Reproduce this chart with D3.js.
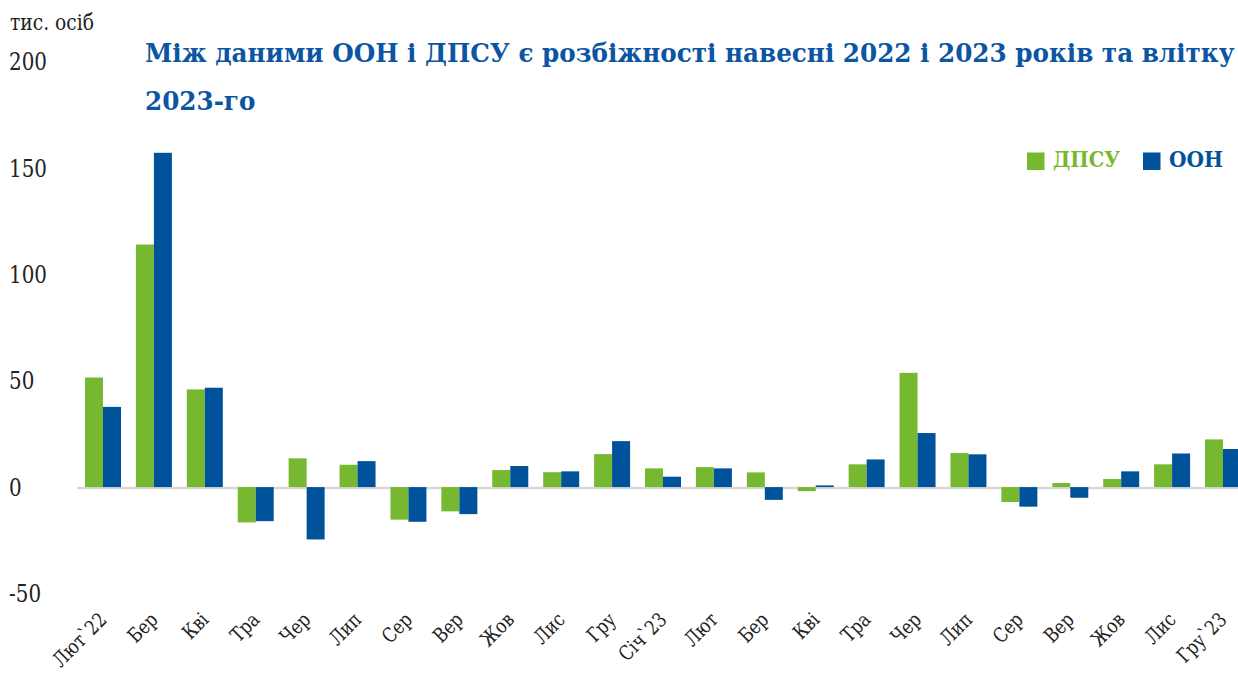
<!DOCTYPE html>
<html><head><meta charset="utf-8">
<script src="https://cdn.jsdelivr.net/npm/d3@7"></script>
<style>
body{margin:0;background:#fff;}
svg{display:block;font-family:"DejaVu Serif",serif;}
</style></head>
<body>
<svg id="c" width="1238" height="680"></svg>
<script>
const categories = ["Лют`22","Бер","Кві","Тра","Чер","Лип","Сер","Вер","Жов","Лис","Гру","Січ`23","Лют","Бер","Кві","Тра","Чер","Лип","Сер","Вер","Жов","Лис","Гру`23"];
const dpsu = [51.5,114.0,45.9,-16.6,13.5,10.5,-15.3,-11.4,8.0,7.0,15.5,8.8,9.4,6.9,-1.9,10.7,53.7,16.0,-7.0,1.9,3.8,10.7,22.4];
const oon  = [37.7,157.1,46.7,-16.0,-24.6,12.2,-16.3,-12.7,9.9,7.4,21.6,4.9,8.8,-6.0,0.8,13.0,25.4,15.4,-9.2,-5.0,7.4,15.8,17.9];
const yTicks = [200,150,100,50,0,-50];
const seriesNames = ["ДПСУ","ООН"];
const colors = ["#76b82f","#00529b"];
const titleLines = ["Між даними ООН і ДПСУ є розбіжності навесні 2022 і 2023 років та влітку","2023-го"];
const unitLabel = "тис. осіб";

const svg = d3.select("#c");
const y = d3.scaleLinear().domain([-50,200]).range([593.5,61.5]);
const x = d3.scaleBand().domain(d3.range(categories.length)).range([85,1241]).paddingInner(0.293).paddingOuter(0);
const xs = d3.scaleBand().domain([0,1]).range([0,x.bandwidth()]);

const SX = 0.83; // condensed look

// y tick labels
svg.append("g").selectAll("text").data(yTicks).join("text")
  .attr("transform",d=>`translate(9,${y(d)}) scale(${SX},1)`)
  .attr("dy","0.36em")
  .attr("font-size",24).attr("fill","#222").text(d=>d);
svg.append("text").attr("transform",`translate(10,30) scale(${SX},1)`)
  .attr("font-size",22.5).attr("fill","#222").text(unitLabel);

// zero line
svg.append("line").attr("x1",77).attr("x2",1238).attr("y1",y(0)+1).attr("y2",y(0)+1)
  .attr("stroke","#d9d9d9").attr("stroke-width",2.5);

// bars
const data = [dpsu,oon];
data.forEach((arr,si)=>{
  svg.append("g").selectAll("rect").data(arr).join("rect")
    .attr("x",(d,i)=>x(i)+xs(si))
    .attr("width",xs.bandwidth())
    .attr("y",d=>d>=0?y(d):y(0))
    .attr("height",d=>Math.abs(y(d)-y(0)))
    .attr("fill",colors[si]);
});

// x labels
svg.append("g").selectAll("text").data(categories).join("text")
  .attr("transform",(d,i)=>`translate(${x(i)+x.bandwidth()/2+5},${621}) rotate(-45) scale(${SX},1)`)
  .attr("text-anchor","end").attr("font-size",20).attr("fill","#222").text(d=>d);

// title
const TF = 25.5;
const t1 = svg.append("text").attr("font-weight","bold")
  .attr("fill","#0b55a2").attr("font-size",TF).text(titleLines[0]);
const w = t1.node().getComputedTextLength();
const tsx = 1090/w;
t1.attr("transform",`translate(145,62) scale(${tsx},1)`);
svg.append("text").attr("transform",`translate(145,110) scale(${tsx},1)`).attr("font-weight","bold")
  .attr("fill","#0b55a2").attr("font-size",TF).text(titleLines[1]);

// legend
const legX = [1027,1143];
const legW = [67,54];
seriesNames.forEach((n,i)=>{
  svg.append("rect").attr("x",legX[i]).attr("y",152.5).attr("width",17.5).attr("height",17.5).attr("fill",colors[i]);
  const t = svg.append("text").attr("font-weight","bold")
    .attr("font-size",23).attr("fill",colors[i]).text(n);
  const tw = t.node().getComputedTextLength();
  t.attr("transform",`translate(${legX[i]+26},167) scale(${legW[i]/tw},1)`);
});
</script>
</body></html>
